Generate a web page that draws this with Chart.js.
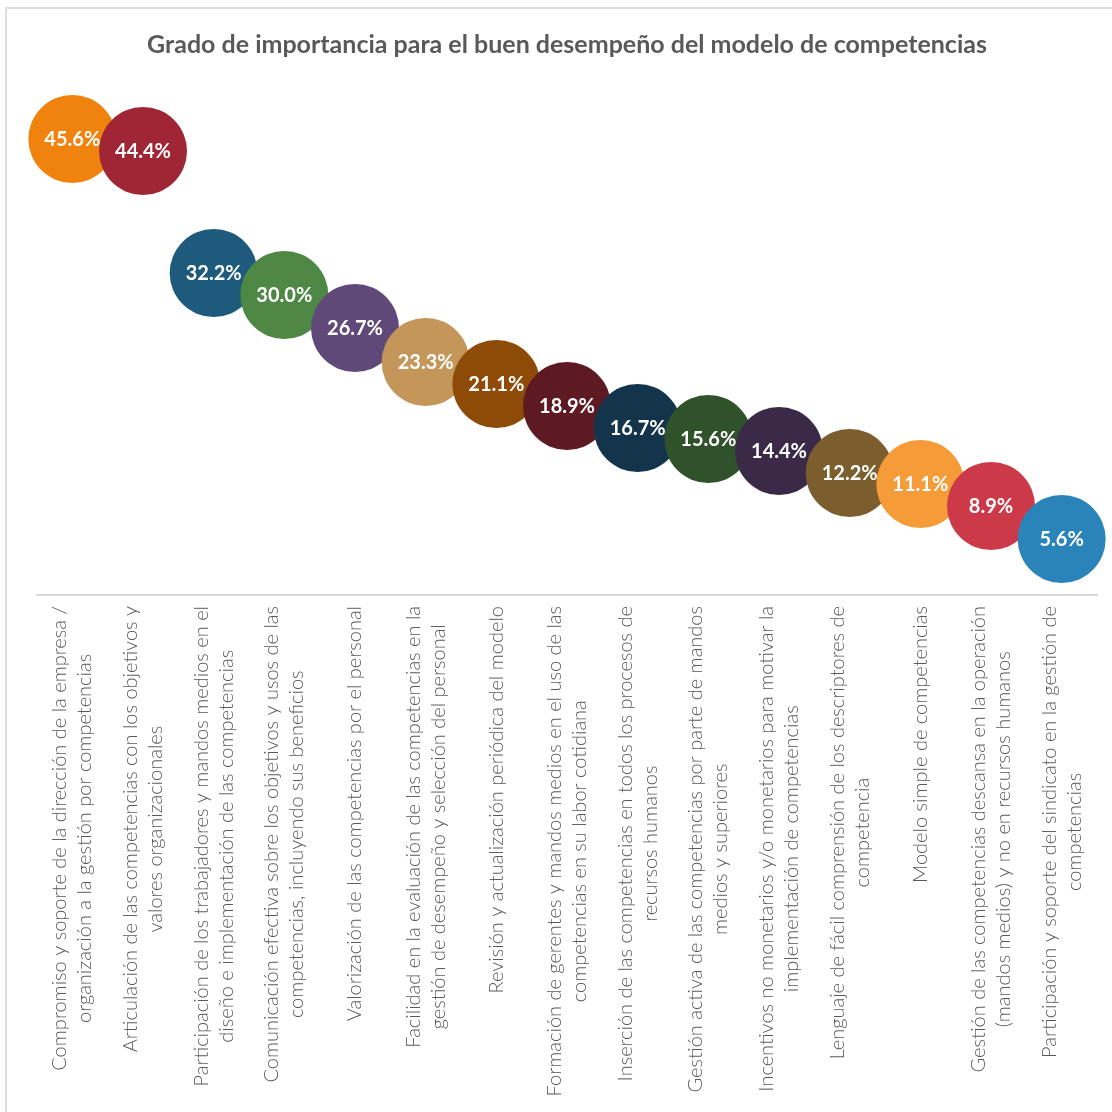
<!DOCTYPE html>
<html lang="es">
<head>
<meta charset="utf-8">
<title>Grado de importancia</title>
<script src="https://cdn.jsdelivr.net/npm/chart.js@4.4.1/dist/chart.umd.min.js"></script>
<style>
  html, body { margin: 0; padding: 0; background: #fff; }
  #frame {
    position: absolute; left: 5px; top: 7px;
    width: 1107px; height: 1105px;
    border-left: 2px solid #dcdcdc; border-top: 2px solid #dcdcdc;
    box-sizing: border-box;
  }
  #wrap { position: absolute; left: 2px; top: 2px; width: 1105px; height: 1103px; }
</style>
</head>
<body>
<div id="frame"><div id="wrap"><canvas id="chart"></canvas></div></div>
<script>
// 分类（每个标签按行拆分）
const labels = [
    ['Compromiso y soporte de la dirección de la empresa /', 'organización a la gestión por competencias'],
    ['Articulación de las competencias con los objetivos y', 'valores organizacionales'],
    ['Participación de los trabajadores y mandos medios en el', 'diseño e implementación de las competencias'],
    ['Comunicación efectiva sobre los objetivos y usos de las', 'competencias, incluyendo sus beneficios'],
    ['Valorización de las competencias por el personal'],
    ['Facilidad en la evaluación de las competencias en la', 'gestión de desempeño y selección del personal'],
    ['Revisión y actualización periódica del modelo'],
    ['Formación de gerentes y mandos medios en el uso de las', 'competencias en su labor cotidiana'],
    ['Inserción de las competencias en todos los procesos de', 'recursos humanos'],
    ['Gestión activa de las competencias por parte de mandos', 'medios y superiores'],
    ['Incentivos no monetarios y/o monetarios para motivar la', 'implementación de competencias'],
    ['Lenguaje de fácil comprensión de los descriptores de', 'competencia'],
    ['Modelo simple de competencias'],
    ['Gestión de las competencias descansa en la operación', '(mandos medios) y no en recursos humanos'],
    ['Participación y soporte del sindicato en la gestión de', 'competencias']
];

// 百分比
const values = [45.6, 44.4, 32.2, 30.0, 26.7, 23.3, 21.1, 18.9, 16.7, 15.6, 14.4, 12.2, 11.1, 8.9, 5.6];

const bubbleColors = [
    '#F0820E', '#A02636', '#1E5A7C', '#4E8844', '#5F4979',
    '#C4965A', '#8E4B08', '#5E1A22', '#13344B', '#2F522A',
    '#3A2A47', '#7C5E2E', '#F59B37', '#CC3A4A', '#2A84BA'
];

const TEXT_GRAY = '#595959';
const LABEL_FONT = '300 20px Lato';

// 圆内百分比标签
const valueLabels = {
    id: 'valueLabels',
    afterDatasetsDraw(chart) {
        const ctx = chart.ctx;
        const meta = chart.getDatasetMeta(0);
        ctx.save();
        ctx.fillStyle = '#ffffff';
        ctx.font = 'bold 20px Lato';
        ctx.textAlign = 'center';
        ctx.textBaseline = 'middle';
        meta.data.forEach((pt, i) => {
            ctx.fillText(values[i].toFixed(1) + '%', pt.x, pt.y + 1);
        });
        ctx.restore();
    }
};

// 竖排的分类标签：顶部对齐，多行居中
const rotatedTicks = {
    id: 'rotatedTicks',
    afterDraw(chart) {
        const ctx = chart.ctx;
        const xScale = chart.scales.x;
        const top = chart.chartArea.bottom + 11;
        const lineH = 25;
        ctx.save();
        ctx.font = LABEL_FONT;
        ctx.fillStyle = TEXT_GRAY;
        ctx.textAlign = 'center';
        ctx.textBaseline = 'middle';
        labels.forEach((lines, i) => {
            const x = xScale.getPixelForTick(i);
            const w = Math.max(...lines.map(l => ctx.measureText(l).width));
            ctx.save();
            ctx.translate(x, top);
            ctx.rotate(-Math.PI / 2);
            lines.forEach((line, j) => {
                const v = (j - (lines.length - 1) / 2) * lineH;
                ctx.fillText(line, -w / 2, v);
            });
            ctx.restore();
        });
        ctx.restore();
    }
};

function renderChart() {
    const ctx = document.getElementById('chart');
    return new Chart(ctx, {
        type: 'line',
        data: {
            labels: labels.map(l => l.join(' ')),
            datasets: [{
                data: values,
                showLine: false,
                pointRadius: 44,
                pointHoverRadius: 44,
                pointBorderWidth: 0,
                pointBackgroundColor: bubbleColors,
                pointBorderColor: bubbleColors,
                clip: false
            }]
        },
        options: {
            responsive: true,
            maintainAspectRatio: false,
            animation: false,
            layout: {
                autoPadding: false,
                padding: { left: 28, right: 17, top: 0, bottom: 0 }
            },
            plugins: {
                legend: { display: false },
                tooltip: { enabled: false },
                title: {
                    display: true,
                    text: 'Grado de importancia para el buen desempeño del modelo de competencias',
                    color: TEXT_GRAY,
                    font: { family: 'Lato', size: 25, weight: 'bold', lineHeight: 1.2 },
                    padding: { top: 19, bottom: 35 }
                }
            },
            scales: {
                x: {
                    type: 'category',
                    offset: true,
                    grid: { display: false, drawTicks: false },
                    border: { display: true, color: '#d9d9d9', width: 2 },
                    ticks: { display: false },
                    afterFit: function(scale) {
                        scale.height = 519;
                    }
                },
                y: {
                    display: false,
                    min: 0,
                    max: 50
                }
            }
        },
        plugins: [valueLabels, rotatedTicks]
    });
}

document.addEventListener('DOMContentLoaded', function() {
    renderChart();
});
</script>
</body>
</html>
